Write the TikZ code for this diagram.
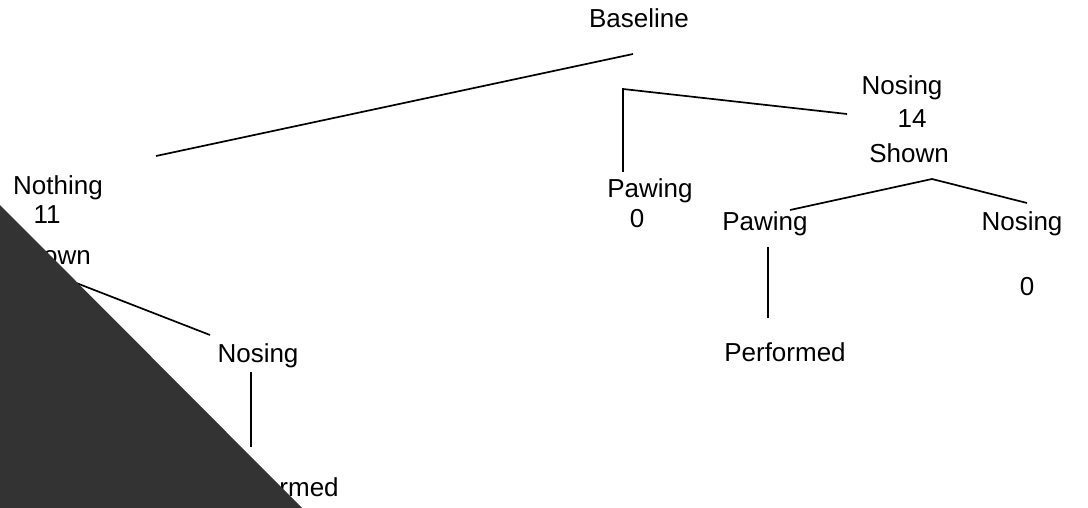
\documentclass[tikz,border=0pt]{standalone}
\usepackage{fontspec}
\setmainfont{Liberation Sans}
\begin{document}
\begin{tikzpicture}[x=1pt,y=-1pt,
  lbl/.style={inner sep=0pt,anchor=base,font=\fontsize{26}{29}\selectfont},
  edge/.style={line width=1.7pt,line cap=butt}]
\useasboundingbox (0,0) rectangle (1088,508);
% labels (placed by their baselines)
\node[lbl] (base) at (639,28) {Baseline};
\node[lbl] (nothing) at (58,195) {Nothing};
\node[lbl] (n11) at (47,224) {11};
\node[lbl] (lshown) at (51,265) {Shown};
\node[lbl] (lnosing) at (258,362) {Nosing};
\node[lbl] (lperf) at (278,496) {Performed};
\node[lbl] (paw0) at (650,198) {Pawing};
\node[lbl] (zero0) at (637,228) {0};
\node[lbl] (rnosing) at (902,95) {Nosing};
\node[lbl] (n14) at (912,128) {14};
\node[lbl] (rshown) at (909,163) {Shown};
\node[lbl] (rpaw) at (765,230) {Pawing};
\node[lbl] (rnos2) at (1022,230) {Nosing};
\node[lbl] (zero1) at (1027,295) {0};
\node[lbl] (rperf) at (785,361) {Performed};
% connector end points
\coordinate (b1) at (633,54);
\coordinate (b2) at (156,156);
\coordinate (f0) at (623,89);
\coordinate (f1) at (623,172);
\coordinate (f2) at (847,114);
\coordinate (s0) at (932,179);
\coordinate (s1) at (790,210);
\coordinate (s2) at (1027,203);
\coordinate (p1) at (768,247);
\coordinate (p2) at (768,318);
\coordinate (l0) at (48,272);
\coordinate (l1) at (210,335);
\coordinate (q1) at (251,372);
\coordinate (q2) at (251,447);
% connectors
\draw[edge] (b1) -- (b2);
\draw[edge] (f1) -- (f0) -- (f2);
\draw[edge] (s1) -- (s0) -- (s2);
\draw[edge] (p1) -- (p2);
\draw[edge] (l0) -- (l1);
\draw[edge] (q1) -- (q2);
% dark corner panel
\fill[black!80] (0,205) -- (302,508) -- (0,508) -- cycle;
\end{tikzpicture}
\end{document}
